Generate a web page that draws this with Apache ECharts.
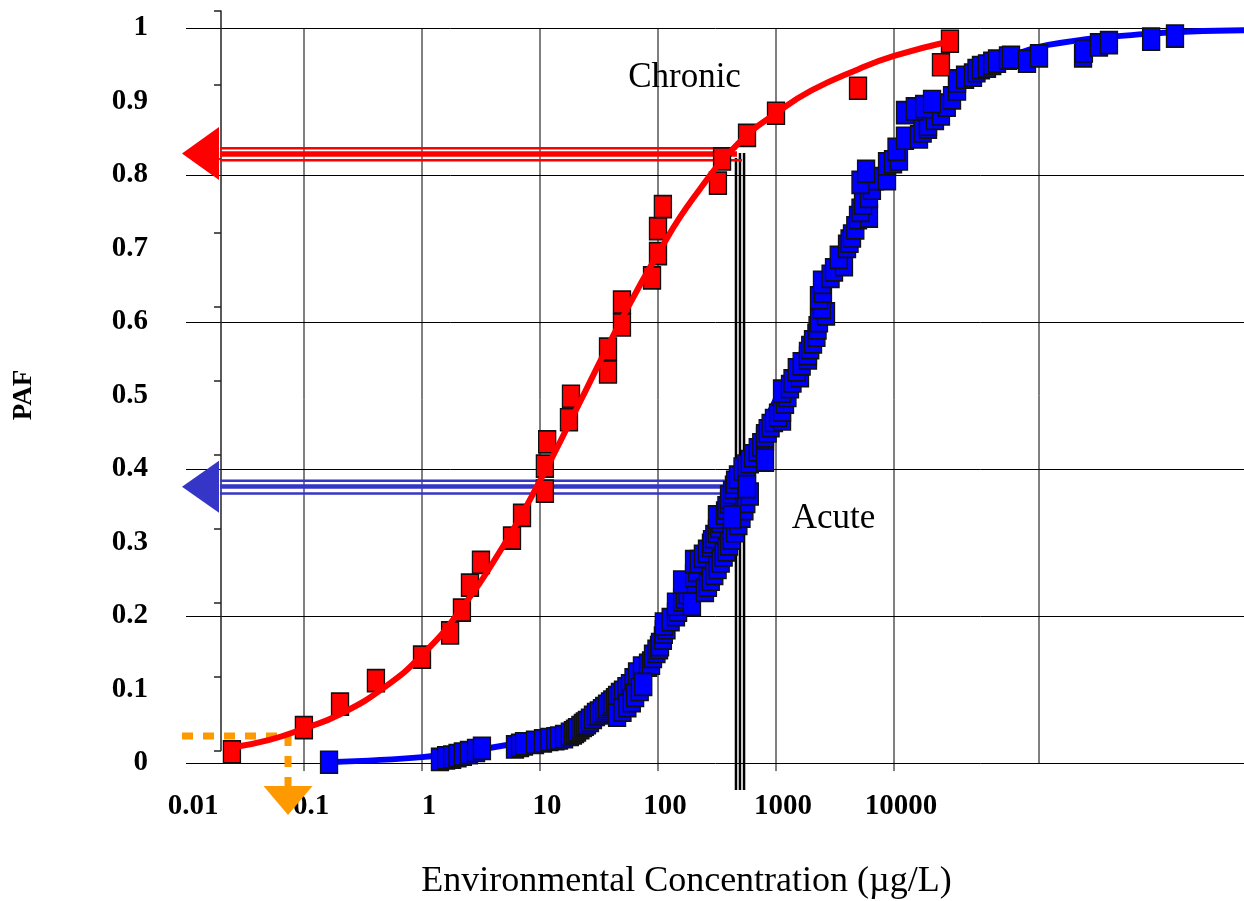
<!DOCTYPE html>
<html>
<head>
<meta charset="utf-8">
<title>PAF - Environmental Concentration</title>
<script src="https://cdn.jsdelivr.net/npm/echarts@6.0.0/dist/echarts.min.js"></script>
<style>
  html, body { margin: 0; padding: 0; background: #fff; }
  #chart { width: 1244px; height: 901px; }
</style>
</head>
<body>
<div id="chart"></div>
<script>
// ---- data (concentration in ug/L, PAF 0..1) ----

// chronic toxicity data (red squares)
var chronicConc = [0.0245, 0.0998, 0.202, 0.407, 1.0, 1.73, 2.18, 2.55, 3.16, 5.79, 7.04,
  11.0, 11.0, 11.5, 17.6, 18.3, 37.7, 37.7, 49.5, 49.5, 89, 100, 100, 110, 322, 349, 568,
  1000, 4955, 25000, 29800];
var chronicPaf = [0.015, 0.048, 0.080, 0.112, 0.144, 0.177, 0.208, 0.242, 0.273, 0.306, 0.337,
  0.370, 0.404, 0.437, 0.467, 0.499, 0.532, 0.563, 0.596, 0.627, 0.660, 0.693, 0.727, 0.757,
  0.789, 0.822, 0.854, 0.884, 0.918, 0.950, 0.982];

// chronic fitted curve
var chronicFitConc = [0.0245, 0.05, 0.1, 0.2, 0.5, 1, 2, 5, 10, 20, 50, 100, 200, 500,
  1000, 2000, 5000, 10000, 28100];
var chronicFitPaf = [0.021, 0.031, 0.047, 0.066, 0.105, 0.147, 0.203, 0.298, 0.384, 0.479,
  0.606, 0.693, 0.769, 0.846, 0.884, 0.915, 0.944, 0.962, 0.981];

// acute toxicity data (blue squares); the tail of the lists is the squares hidden in the stacks
var acuteConc = [0.163, 1.42, 1.6, 1.8, 2.0, 2.22, 2.5, 2.87, 3.22, 6.14, 6.77, 7.32, 9.07, 10.6,
  12, 13.5, 14.5, 16, 17.9, 19, 19.8, 20.6, 22, 23.1, 24, 25, 26.5, 28.1, 29.8, 31.5, 33.5, 35,
  37, 39.2, 41, 43.2, 45, 47.6, 50.5, 54, 57.9, 62, 66.4, 73.1, 82.3, 87.3, 90.7, 97, 102, 104,
  110, 112, 118, 112, 128, 142, 148, 142, 160, 169, 178, 194, 160, 210, 202, 215, 202, 222,
  240, 260, 281, 287, 300, 316, 330, 340, 316, 370, 380, 400, 400, 424, 440, 450, 476, 568,
  520, 560, 600, 640, 700, 750, 807, 807, 850, 900, 961, 1125, 1040, 1125, 1192, 1250, 1125,
  1314, 1380, 1597, 1500, 1650, 1866, 1866, 1950, 2059, 2200, 2250, 2313, 2653, 2450, 2313,
  2500, 2453, 2900, 3102, 3768, 3400, 3999, 4200, 4406, 4700, 4955, 6137, 5200, 5462, 6137,
  6500, 6898, 8728, 8728, 9812, 11020, 10500, 12390, 16290, 17500, 19420, 19420, 22240,
  25000, 28000, 31030, 34220, 34220, 40000, 46700, 50000, 54580, 61380, 68000, 74650, 92480,
  98110, 134000, 169400, 400000, 407000, 546000, 663000, 1510000, 2406000,
  45, 50, 55, 60, 64, 70, 75, 194, 250, 265, 280, 300, 320, 340, 360, 380, 400, 420, 450, 480,
  510, 540, 560, 600, 424, 568, 807, 5200, 5800, 12400, 15000, 18000, 21000];
var acutePaf = [0.001, 0.005, 0.007, 0.008, 0.010, 0.012, 0.014, 0.017, 0.020, 0.022, 0.024,
  0.026, 0.028, 0.030, 0.032, 0.033, 0.034, 0.036, 0.039, 0.041, 0.043, 0.045, 0.048, 0.051,
  0.053, 0.055, 0.058, 0.062, 0.066, 0.068, 0.071, 0.074, 0.077, 0.080, 0.083, 0.086, 0.089,
  0.093, 0.096, 0.101, 0.105, 0.113, 0.121, 0.129, 0.133, 0.136, 0.145, 0.152, 0.157, 0.161,
  0.170, 0.178, 0.184, 0.189, 0.195, 0.202, 0.208, 0.216, 0.222, 0.226, 0.232, 0.238, 0.246,
  0.246, 0.255, 0.262, 0.274, 0.274, 0.281, 0.288, 0.296, 0.301, 0.308, 0.315, 0.322, 0.329,
  0.335, 0.340, 0.347, 0.355, 0.362, 0.368, 0.375, 0.382, 0.389, 0.397, 0.400, 0.404, 0.410,
  0.418, 0.426, 0.433, 0.441, 0.445, 0.452, 0.459, 0.466, 0.468, 0.473, 0.480, 0.491, 0.500,
  0.506, 0.512, 0.520, 0.527, 0.535, 0.543, 0.551, 0.557, 0.565, 0.573, 0.582, 0.592, 0.602,
  0.611, 0.620, 0.633, 0.642, 0.654, 0.662, 0.671, 0.678, 0.688, 0.703, 0.710, 0.717, 0.728,
  0.742, 0.744, 0.752, 0.762, 0.771, 0.782, 0.795, 0.795, 0.815, 0.818, 0.822, 0.835, 0.850,
  0.852, 0.860, 0.865, 0.869, 0.877, 0.883, 0.895, 0.905, 0.917, 0.928, 0.933, 0.936, 0.942,
  0.946, 0.948, 0.952, 0.955, 0.959, 0.960, 0.955, 0.962, 0.962, 0.969, 0.977, 0.980, 0.985,
  0.989,
  0.065, 0.072, 0.078, 0.085, 0.092, 0.100, 0.107, 0.216, 0.235, 0.242, 0.250, 0.258, 0.266,
  0.275, 0.283, 0.290, 0.298, 0.306, 0.316, 0.326, 0.336, 0.346, 0.356, 0.366, 0.335, 0.376,
  0.412, 0.790, 0.805, 0.885, 0.890, 0.893, 0.900];

// acute fitted curve
var acuteFitConc = [0.163, 1, 3, 10, 20, 30, 50, 100, 200, 300, 500, 1000, 2000, 3000, 5000,
  10000, 25000, 50000, 100000, 202000, 1390000, 10000000];
var acuteFitPaf = [0.001, 0.008, 0.018, 0.035, 0.056, 0.08, 0.106, 0.165, 0.255, 0.31, 0.39,
  0.495, 0.585, 0.66, 0.74, 0.83, 0.9, 0.94, 0.962, 0.977, 0.992, 0.997];

// tick labels
var xTickLabels = ['0.01', '0.1', '1', '10', '100', '1000', '10000'];
var yTickLabels = ['0', '0.1', '0.2', '0.3', '0.4', '0.5', '0.6', '0.7', '0.8', '0.9', '1'];

// vertical grid lines (decades with a tick below) and the lone extra one
var xGridValues = [0.1, 1, 10, 100, 1000, 10000];
var xExtraGridValues = [169400];

// reading of ~500 ug/L : PAF for chronic and acute
var readConc = [458, 495, 536];
var readTop = [0.823, 0.830, 0.830];
var chronicArrowY = [0.8363, 0.8286, 0.8200];
var chronicArrowEnd = [467, 467, 515];
var acuteArrowY = [0.3841, 0.3762, 0.3667];
var acuteArrowEnd = [467, 424, 335];
var arrowStart = 0.0194;
var arrowHeadConc = 0.01327;
var chronicHeadPaf = 0.8293;
var acuteHeadPaf = 0.3759;

// orange dotted reading at the low end
var lowPath = [[0.00925, 0.0367], [0.0732, 0.0367], [0.0732, -0.034]];
var lowHead = [0.0732, -0.051];

// curve names placed in data space
var curveLabels = [
  { name: 'Chronic', value: [167.8, 0.9327] },
  { name: 'Acute', value: [3070, 0.3327] }
];

var SERIF = '"Liberation Serif", "Times New Roman", serif';

function pairs(xs, ys) {
  return xs.map(function (x, i) { return [x, ys[i]]; });
}

// custom series drawing straight segments [x1, y1, x2, y2]
function segmentSeries(segs, widths, color, z) {
  return {
    type: 'custom',
    coordinateSystem: 'cartesian2d',
    xAxisIndex: 0,
    yAxisIndex: 0,
    silent: true,
    clip: false,
    z: z,
    encode: { x: [0, 2], y: [1, 3] },
    data: segs,
    renderItem: function (params, api) {
      var p1 = api.coord([api.value(0), api.value(1)]);
      var p2 = api.coord([api.value(2), api.value(3)]);
      return {
        type: 'line',
        shape: { x1: p1[0], y1: p1[1], x2: p2[0], y2: p2[1] },
        style: { stroke: color, lineWidth: widths[params.dataIndex % widths.length], lineCap: 'butt' }
      };
    }
  };
}

function arrowHead(point, color, rotate, size, z) {
  return {
    type: 'scatter',
    silent: true,
    clip: false,
    z: z,
    symbol: 'triangle',
    symbolRotate: rotate,
    symbolSize: size,
    itemStyle: { color: color, opacity: 1 },
    data: [point]
  };
}

var gridSegs = xGridValues.map(function (v) { return [v, 1, v, -0.011]; })
  .concat(xExtraGridValues.map(function (v) { return [v, 1, v, 0]; }));
var readSegs = readConc.map(function (v, i) { return [v, readTop[i], v, -0.0367]; });
var chronicSegs = chronicArrowY.map(function (y, i) { return [arrowStart, y, chronicArrowEnd[i], y]; });
var acuteSegs = acuteArrowY.map(function (y, i) { return [arrowStart, y, acuteArrowEnd[i], y]; });

var chart = echarts.init(document.getElementById('chart'), null, { renderer: 'canvas' });

var option = {
  animation: false,
  backgroundColor: '#fff',
  grid: [
    { left: 186, top: 28, right: -4, bottom: 138, containLabel: false, outerBoundsMode: 'none' },
    // the offset axis line with its own ticks
    { left: 221, top: 11, width: 10, height: 739.5, containLabel: false, outerBoundsMode: 'none' }
  ],
  xAxis: [
    {
      type: 'log',
      logBase: 10,
      gridIndex: 0,
      min: 0.01,
      max: 10000000,
      axisLine: { show: false },
      axisTick: { show: false },
      splitLine: { show: false },
      axisLabel: {
        margin: 29,
        padding: [0, 0, 0, 14],
        fontSize: 29,
        fontWeight: 'bold',
        fontFamily: SERIF,
        color: '#000',
        formatter: function (v) {
          return xTickLabels[Math.round(Math.log10(v)) + 2] || '';
        }
      }
    },
    { type: 'value', gridIndex: 1, show: false, min: 0, max: 1 }
  ],
  yAxis: [
    {
      type: 'value',
      gridIndex: 0,
      min: 0,
      max: 1,
      interval: 0.1,
      axisLine: { show: false },
      axisTick: { show: false },
      axisLabel: {
        margin: 38,
        fontSize: 29,
        fontWeight: 'bold',
        fontFamily: SERIF,
        color: '#000',
        formatter: function (v) { return yTickLabels[Math.round(v * 10)]; }
      },
      // only every second line is drawn
      splitLine: { show: true, lineStyle: { color: ['#000', 'transparent'], width: 1 } }
    },
    {
      type: 'value',
      gridIndex: 1,
      min: 0,
      max: 1,
      interval: 0.1,
      axisLine: { show: true, lineStyle: { color: '#222', width: 1.5 } },
      axisTick: { show: true, length: 7, lineStyle: { color: '#222', width: 1.5 } },
      axisLabel: { show: false },
      splitLine: { show: false }
    }
  ],
  graphic: [
    {
      type: 'text',
      x: 686.5,
      y: 882,
      style: {
        text: 'Environmental Concentration (\u00b5g/L)',
        fontSize: 36,
        fontFamily: SERIF,
        fill: '#000',
        textAlign: 'center',
        textVerticalAlign: 'middle'
      }
    },
    {
      type: 'text',
      x: 24,
      y: 395,
      rotation: Math.PI / 2,
      style: {
        text: 'PAF',
        fontSize: 27,
        fontWeight: 'bold',
        fontFamily: SERIF,
        fill: '#000',
        textAlign: 'center',
        textVerticalAlign: 'middle'
      }
    }
  ],
  series: [
    segmentSeries(gridSegs, [1], '#000', 1),
    segmentSeries(readSegs, [2.5], '#000', 2),
    segmentSeries(chronicSegs, [2.5, 5.5, 2.5], '#ff0000', 2),
    segmentSeries(acuteSegs, [2.5, 4.5, 2.5], '#3535c8', 2),
    arrowHead([arrowHeadConc, chronicHeadPaf], '#ff0000', 90, [53, 37], 2),
    arrowHead([arrowHeadConc, acuteHeadPaf], '#3535c8', 90, [52, 37], 2),
    {
      type: 'line',
      silent: true,
      clip: false,
      z: 2,
      symbol: 'none',
      lineStyle: { color: '#ff9900', width: 7, type: [11, 10], cap: 'butt' },
      data: lowPath
    },
    arrowHead(lowHead, '#ff9900', 180, [49, 29], 2),
    {
      name: 'Acute fit',
      type: 'line',
      z: 3,
      symbol: 'none',
      smooth: 0.4,
      lineStyle: { color: '#0000ff', width: 6 },
      data: pairs(acuteFitConc, acuteFitPaf)
    },
    {
      name: 'Acute',
      type: 'scatter',
      z: 4,
      symbol: 'rect',
      symbolSize: [17, 22],
      itemStyle: { color: '#0000ff', borderColor: '#111', borderWidth: 1.5, opacity: 1 },
      data: pairs(acuteConc, acutePaf)
    },
    {
      name: 'Chronic',
      type: 'scatter',
      z: 5,
      symbol: 'rect',
      symbolSize: [17, 22],
      itemStyle: { color: '#ff0000', borderColor: '#111', borderWidth: 1.5, opacity: 1 },
      data: pairs(chronicConc, chronicPaf)
    },
    {
      name: 'Chronic fit',
      type: 'line',
      z: 6,
      symbol: 'none',
      smooth: 0.5,
      lineStyle: { color: '#ff0000', width: 6 },
      data: pairs(chronicFitConc, chronicFitPaf)
    },
    {
      type: 'scatter',
      silent: true,
      z: 7,
      symbolSize: 1,
      itemStyle: { color: 'transparent', opacity: 1 },
      label: {
        show: true,
        position: 'inside',
        formatter: '{b}',
        fontSize: 35,
        fontFamily: SERIF,
        color: '#000',
        opacity: 1
      },
      data: curveLabels
    }
  ]
};

chart.setOption(option);
</script>
</body>
</html>
